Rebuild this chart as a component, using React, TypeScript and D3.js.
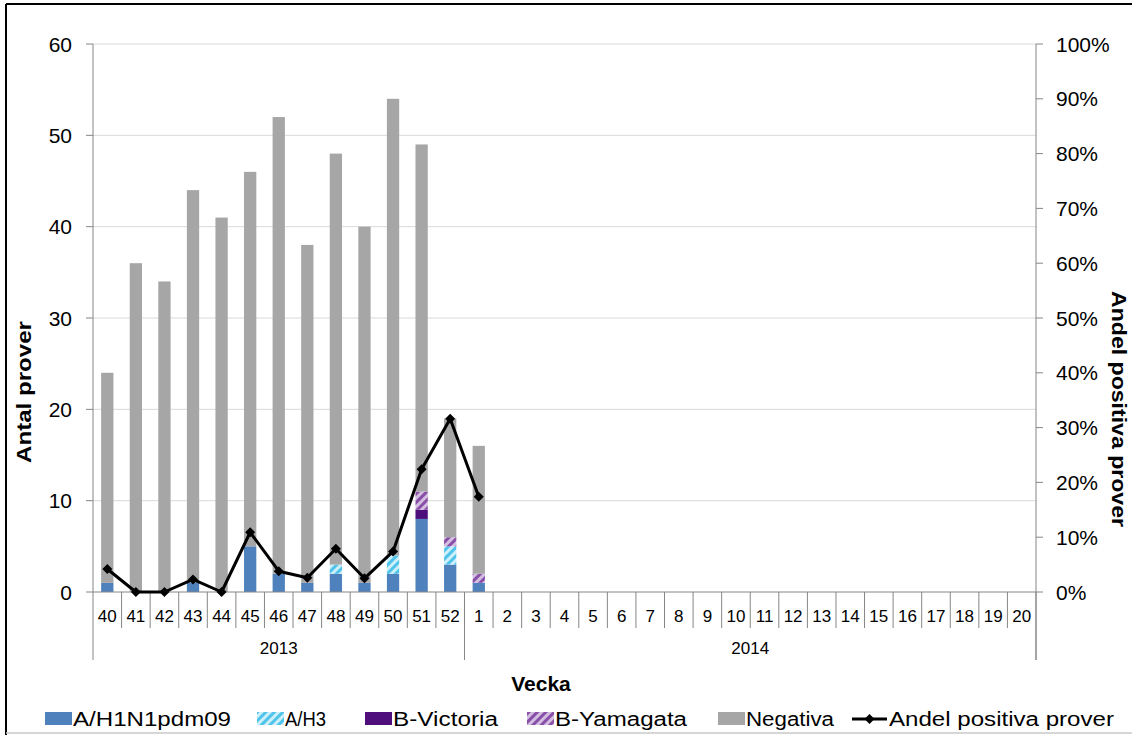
import React from "react";
import * as d3 from "d3";

const weeks = [
  "40", "41", "42", "43", "44", "45", "46", "47", "48", "49", "50", "51", "52",
  "1", "2", "3", "4", "5", "6", "7", "8", "9", "10", "11", "12", "13", "14",
  "15", "16", "17", "18", "19", "20",
];
const years = [
  { label: "2013", from: "40", to: "52" },
  { label: "2014", from: "1", to: "20" },
];

// values for weeks 40..52 and 1 (later weeks have no samples)
const h1n1 = [1, 0, 0, 1, 0, 5, 2, 1, 2, 1, 2, 8, 3, 1];
const h3 = [0, 0, 0, 0, 0, 0, 0, 0, 1, 0, 2, 0, 2, 0];
const victoria = [0, 0, 0, 0, 0, 0, 0, 0, 0, 0, 0, 1, 0, 0];
const yamagata = [0, 0, 0, 0, 0, 0, 0, 0, 0, 0, 0, 2, 1, 1];
const negativa = [23, 36, 34, 43, 41, 41, 50, 37, 45, 39, 50, 38, 13, 14];
const andelPositiva = [4.2, 0, 0, 2.3, 0, 10.9, 3.8, 2.6, 7.9, 2.5, 7.4, 22.4, 31.6, 17.4];

const leftTicks = [0, 10, 20, 30, 40, 50, 60];
const rightTicks = [0, 10, 20, 30, 40, 50, 60, 70, 80, 90, 100];

const keys = ["h1n1", "h3", "victoria", "yamagata", "negativa"];
const fills: Record<string, string> = {
  h1n1: "#4F81BD",
  h3: "url(#hatchH3)",
  victoria: "#4E0F7C",
  yamagata: "url(#hatchYam)",
  negativa: "#A6A6A6",
};
const legendItems = [
  { key: "h1n1", label: "A/H1N1pdm09", x: 45, len: 158 },
  { key: "h3", label: "A/H3", x: 257, len: 41 },
  { key: "victoria", label: "B-Victoria", x: 365, len: 105 },
  { key: "yamagata", label: "B-Yamagata", x: 527, len: 132 },
  { key: "negativa", label: "Negativa", x: 718, len: 88 },
];

const W = 1132;
const H = 735;
const left = 93;
const right = 1036;
const top = 44;
const bottom = 592;
const font = "'Liberation Sans', Arial, sans-serif";
const axisColor = "#868686";

const App: React.FC = () => {
  const x = d3.scaleBand<string>().domain(weeks).range([left, right]);
  const y = d3.scaleLinear().domain([0, 60]).range([bottom, top]);
  const yR = d3.scaleLinear().domain([0, 100]).range([bottom, top]);
  const step = x.step();
  const barW = step * 0.43;

  const rows = h1n1.map((_, i) => ({
    week: weeks[i],
    h1n1: h1n1[i],
    h3: h3[i],
    victoria: victoria[i],
    yamagata: yamagata[i],
    negativa: negativa[i],
  }));
  const series = d3.stack<any>().keys(keys)(rows);

  const cx = (w: string) => (x(w) || 0) + step / 2;
  const line = d3
    .line<number>()
    .x((_, i) => cx(weeks[i]))
    .y((d) => yR(d));
  const diamond = d3.symbol().type(d3.symbolSquare).size(50)();

  const last = weeks[weeks.length - 1];
  const yearEdges = [left, (x("1") || 0), right];

  return (
    <svg
      width={W}
      height={H}
      style={{ position: "absolute", left: 0, top: 0, background: "#fff" }}
      fontFamily={font}
    >
      <defs>
        <pattern id="hatchH3" patternUnits="userSpaceOnUse" width="6" height="6" patternTransform="rotate(45)">
          <rect width="6" height="6" fill="#CDEFFA" />
          <rect width="3" height="6" fill="#4FC3EA" />
        </pattern>
        <pattern id="hatchYam" patternUnits="userSpaceOnUse" width="6" height="6" patternTransform="rotate(45)">
          <rect width="6" height="6" fill="#D3BFE0" />
          <rect width="3" height="6" fill="#8A4FA8" />
        </pattern>
      </defs>
      <rect x={0} y={0} width={W} height={H} fill="#fff" />
      <line x1={6} y1={4} x2={W} y2={4} stroke="#000" strokeWidth={2} />
      <line x1={6} y1={4} x2={6} y2={H} stroke="#000" strokeWidth={2} />
      <line x1={6} y1={H - 2} x2={W} y2={H - 2} stroke="#C8C8C8" strokeWidth={1.5} />

      {/* gridlines */}
      {leftTicks.slice(1).map((t) => (
        <line key={t} x1={left} x2={right} y1={y(t)} y2={y(t)} stroke="#D9D9D9" strokeWidth={1} />
      ))}

      {/* bars */}
      {series.map((s) => (
        <g key={s.key} fill={fills[s.key]}>
          {s.map((d, i) =>
            d[1] - d[0] > 0 ? (
              <rect
                key={i}
                x={cx(weeks[i]) - barW / 2}
                y={y(d[1])}
                width={barW}
                height={y(d[0]) - y(d[1])}
              />
            ) : null
          )}
        </g>
      ))}

      {/* axes */}
      <line x1={left} x2={left} y1={top} y2={bottom} stroke={axisColor} />
      <line x1={right} x2={right} y1={top} y2={660} stroke={axisColor} />
      <line x1={left} x2={right} y1={bottom} y2={bottom} stroke={axisColor} />
      {leftTicks.map((t) => (
        <g key={t}>
          <line x1={86} x2={left} y1={y(t)} y2={y(t)} stroke={axisColor} />
          <text x={72} y={y(t)} dy="0.36em" textAnchor="end" fontSize={21}>
            {t}
          </text>
        </g>
      ))}
      {rightTicks.map((t) => (
        <g key={t}>
          <line x1={right} x2={1043} y1={yR(t)} y2={yR(t)} stroke={axisColor} />
          <text x={1056} y={yR(t)} dy="0.36em" fontSize={21}>
            {t}%
          </text>
        </g>
      ))}

      {/* category axis */}
      {weeks.map((w) => (
        <g key={w}>
          {w !== last && (
            <line x1={(x(w) || 0) + step} x2={(x(w) || 0) + step} y1={bottom} y2={628} stroke={axisColor} />
          )}
          <text x={cx(w)} y={616} dy="0.36em" textAnchor="middle" fontSize={17}>
            {w}
          </text>
        </g>
      ))}
      {yearEdges.map((e, i) => (
        <line key={i} x1={e} x2={e} y1={bottom} y2={660} stroke={axisColor} />
      ))}
      {years.map((yr) => (
        <text
          key={yr.label}
          x={((x(yr.from) || 0) + (x(yr.to) || 0) + step) / 2}
          y={648}
          dy="0.36em"
          textAnchor="middle"
          fontSize={17}
        >
          {yr.label}
        </text>
      ))}

      {/* line series */}
      <path d={line(andelPositiva) || ""} fill="none" stroke="#000" strokeWidth={3} strokeLinejoin="round" />
      {andelPositiva.map((v, i) => (
        <path key={i} d={diamond || ""} transform={`translate(${cx(weeks[i])},${yR(v)}) rotate(45)`} fill="#000" />
      ))}

      {/* titles */}
      <text x={541} y={683} dy="0.36em" textAnchor="middle" fontSize={21} fontWeight="bold">
        Vecka
      </text>
      <text
        transform={`translate(31,392) rotate(-90)`}
        textAnchor="middle"
        fontSize={21}
        fontWeight="bold"
        textLength={142}
        lengthAdjust="spacingAndGlyphs"
      >
        Antal prover
      </text>
      <text
        transform={`translate(1112,409) rotate(90)`}
        textAnchor="middle"
        fontSize={21}
        fontWeight="bold"
        textLength={236}
        lengthAdjust="spacingAndGlyphs"
      >
        Andel positiva prover
      </text>

      {/* legend */}
      {legendItems.map((it) => (
        <g key={it.key}>
          <rect x={it.x} y={712} width={27} height={13} fill={fills[it.key]} />
          <text
            x={it.x + 28}
            y={719}
            dy="0.36em"
            fontSize={20}
            textLength={it.len}
            lengthAdjust="spacingAndGlyphs"
          >
            {it.label}
          </text>
        </g>
      ))}
      <line x1={852} x2={887} y1={719} y2={719} stroke="#000" strokeWidth={3} />
      <path d={diamond || ""} transform="translate(869.5,719) rotate(45)" fill="#000" />
      <text x={889} y={719} dy="0.36em" fontSize={20} textLength={225} lengthAdjust="spacingAndGlyphs">
        Andel positiva prover
      </text>
    </svg>
  );
};

export default App;
